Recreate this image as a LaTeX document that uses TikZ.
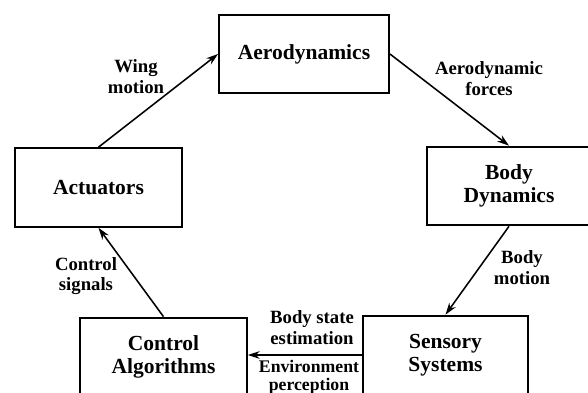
\documentclass[tikz,border=0pt]{standalone}
\usepackage{fontspec}
\setmainfont{Liberation Serif}
\usetikzlibrary{arrows.meta,positioning}
\tikzset{blk/.style={draw, rectangle, line width=1.3pt, minimum height=1.97cm, inner sep=2pt,
    align=center, font=\fontsize{15.3}{16}\selectfont\bfseries}}
\tikzstyle{lbl}=[align=center, inner sep=1pt, font=\fontsize{13.3}{14.8}\selectfont\bfseries]
\begin{document}
\begin{tikzpicture}[>={Stealth[length=8.5pt,width=5.5pt]}, x=0.025cm, y=-0.025cm, line width=1.1pt]
\useasboundingbox (0,0) rectangle (588,393);
\clip (0,0) rectangle (588,393);
% blocks
\node[blk, minimum width=4.25cm] (aero) at (304,54) {Aerodynamics};
\node[blk, minimum width=4.17cm] (act) at (98.5,187.5) {Actuators};
\node[blk, minimum width=4.1cm] (body) at (509,186) {Body\\Dynamics};
\node[blk, minimum width=4.17cm] (ctrl) at (163.5,357) {Control\\Algorithms};
\node[blk, minimum width=4.12cm] (sens) at (445.5,355) {Sensory\\Systems};
% signals
\path[->] (act.north) edge (aero.west)
          (aero.east) edge (body.north)
          (body.south) edge (sens.north)
          (sens.west) edge (sens.west -| ctrl.east)
          (ctrl.north) edge (act.south);
\node[lbl] (wing) at (136,77) {Wing\\motion};
\node[lbl] (forces) at (489,79) {Aerodynamic\\forces};
\node[lbl] (bmot) at (522,268) {Body\\motion};
\node[lbl] (csig) at (86,276) {Control\\signals};
\node[lbl] (est) at (312,328) {Body state\\estimation};
\node[lbl, font=\fontsize{12.6}{13}\selectfont\bfseries] (env) at (309,377) {Environment\\perception};
\end{tikzpicture}
\end{document}
